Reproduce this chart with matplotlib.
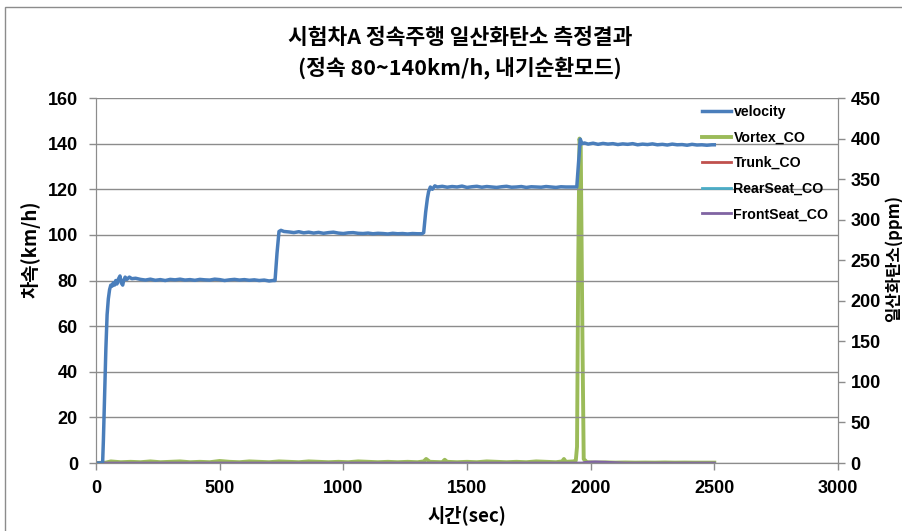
import matplotlib
matplotlib.use("Agg")
import matplotlib.pyplot as plt
from matplotlib.patches import Rectangle

plt.rcParams['font.family'] = ['Noto Sans CJK KR', 'DejaVu Sans']

# ---- data: vehicle speed (km/h), one block per speed stage ------------
t_start = [0, 10, 20, 27, 30, 35, 40, 45, 50, 55, 60, 65, 70, 75, 80, 85, 90]
v_start = [0, 0, 0, 0.5, 10, 30, 50, 65, 72, 76, 78, 77.5, 79, 78, 80, 78.5, 80.5]

t_settle = [97, 102, 108, 112, 118, 125, 135, 145, 160]
v_settle = [82, 79, 78, 80, 81.5, 80.5, 81.5, 80.8, 81]

t_80 = [180, 200, 220, 240, 260, 280, 300, 320, 340, 360, 380, 400, 420, 440,
        460, 480, 500, 520, 540, 560, 580, 600, 620, 640, 660, 680, 700, 715, 724]
v_80 = [80.5, 80.2, 80.6, 80.1, 80.4, 80.0, 80.5, 80.3, 80.6, 80.2, 80.4, 80.1,
        80.5, 80.3, 80.2, 80.6, 80.4, 80.0, 80.3, 80.5, 80.2, 80.4, 80.1, 80.3,
        80.0, 80.2, 79.8, 80.0, 80.0]

t_100 = [732, 740, 748, 760, 780, 800, 820, 840, 860, 880, 900, 920, 940, 960,
         980, 1000, 1020, 1040, 1060, 1080, 1100, 1120, 1140, 1160, 1180, 1200,
         1220, 1240, 1260, 1280, 1300, 1318]
v_100 = [92, 101.5, 102, 101.5, 101.3, 101.0, 101.4, 100.9, 101.2, 100.8, 101.1,
         100.7, 101.0, 101.2, 100.8, 100.6, 100.9, 101.0, 100.7, 100.6, 100.8,
         100.5, 100.7, 100.6, 100.4, 100.7, 100.5, 100.6, 100.4, 100.6, 100.5, 100.5]

t_120 = [1325, 1333, 1340, 1345, 1352, 1360, 1370, 1380, 1400, 1420, 1440, 1460,
         1480, 1500, 1520, 1540, 1560, 1580, 1600, 1620, 1640, 1660, 1680, 1700,
         1720, 1740, 1760, 1780, 1800, 1820, 1840, 1860, 1880, 1900, 1920, 1935, 1944]
v_120 = [101, 110, 116, 119, 121, 120, 121.5, 121.0, 121.3, 120.9, 121.2, 121.0,
         121.4, 120.8, 121.1, 121.3, 120.9, 121.2, 121.0, 120.8, 121.1, 121.3,
         120.9, 121.0, 121.2, 120.8, 121.1, 121.0, 120.9, 121.2, 121.0, 120.8,
         121.1, 121.0, 121.0, 121.0, 121.0]

t_140 = [1950, 1955, 1958, 1965, 1975, 1990, 2010, 2030, 2050, 2070, 2090, 2110,
         2130, 2150, 2170, 2190, 2210, 2230, 2250, 2270, 2290, 2310, 2330, 2350,
         2370, 2390, 2410, 2430, 2450, 2470, 2490, 2500]
v_140 = [130, 138, 142, 140, 140.3, 139.8, 140.2, 139.7, 140.1, 139.8, 140.0,
         139.6, 139.9, 139.7, 140.0, 139.5, 139.8, 139.6, 139.9, 139.5, 139.7,
         139.4, 139.8, 139.5, 139.6, 139.3, 139.7, 139.4, 139.5, 139.3, 139.5, 139.5]

# ---- data: carbon monoxide (ppm) ---------------------------------------
co_t_a = [0, 40, 60, 100, 140, 180, 220, 260, 300, 340, 380, 420, 460, 500,
          540, 580, 620, 660, 700, 740]
vortex_a = [0, 0.5, 2, 1, 1.5, 1, 2, 1, 1.5, 2, 1, 1.5, 1, 2.5, 1.5, 1, 2, 1.5, 1, 2]

co_t_b = [780, 820, 860, 900, 940, 980, 1020, 1060, 1100, 1140, 1180, 1220,
          1260, 1300, 1325, 1335, 1350, 1400, 1410, 1420]
vortex_b = [1.5, 1, 2, 1.5, 1, 1.5, 1, 2, 1.5, 1, 1.5, 1, 1.5, 1, 2, 5, 1.5, 1, 4, 1.5]

co_t_c = [1460, 1500, 1540, 1580, 1620, 1660, 1700, 1740, 1780, 1820, 1860,
          1885, 1892, 1900, 1930]
vortex_c = [1, 1.5, 1, 2, 1.5, 1, 1.5, 1, 2, 1.5, 1, 2, 5, 1.5, 2]

co_t_d = [1940, 1945, 1950, 1955, 1960, 1967, 1972, 1985]
vortex_d = [3, 20, 250, 400, 390, 150, 5, 1]

co_t_e = [2020, 2060, 2100, 2140, 2180, 2220, 2260, 2300, 2340, 2380, 2420, 2460, 2500]
vortex_e = [0.5, 0.8, 0.5, 0.7, 0.5, 0.6, 0.5, 0.7, 0.5, 0.6, 0.5, 0.5, 0.5]

front_d = [0, 0, 0, 0, 0, 0, 0.5, 1]
front_e = [1.5, 1, 0.5, 0, 0, 0, 0, 0, 0, 0, 0, 0, 0]

x_ticks = [0, 500, 1000, 1500, 2000, 2500, 3000]
y_left_ticks = [0, 20, 40, 60, 80, 100, 120, 140, 160]
y_right_ticks = [0, 50, 100, 150, 200, 250, 300, 350, 400, 450]

vel_time = t_start + t_settle + t_80 + t_100 + t_120 + t_140
velocity = v_start + v_settle + v_80 + v_100 + v_120 + v_140
co_time = co_t_a + co_t_b + co_t_c + co_t_d + co_t_e
vortex_co = vortex_a + vortex_b + vortex_c + vortex_d + vortex_e
trunk_co = [0] * len(co_time)
rearseat_co = [0] * len(co_time)
frontseat_co = [0] * (len(co_t_a) + len(co_t_b) + len(co_t_c)) + front_d + front_e

# ---- figure -----------------------------------------------------------
fig = plt.figure(figsize=(9.02, 5.31), dpi=100)
fig.patches.append(Rectangle((0.005, -0.01), 1.2, 0.997, transform=fig.transFigure,
                             fill=False, edgecolor='#8c8c8c', linewidth=1.0))

ax = fig.add_axes([0.1064, 0.128, 0.8226, 0.6874])
ax2 = ax.twinx()

num_font = ['Liberation Sans', 'DejaVu Sans']
grid_c = '#8c8c8c'

ax.set_xlim(0, 3000)
ax.set_ylim(0, 160)
ax2.set_ylim(0, 450)
ax.set_xticks(x_ticks)
ax.set_yticks(y_left_ticks)
ax2.set_yticks(y_right_ticks)
ax.yaxis.grid(True, color=grid_c, linewidth=1.0)
ax.set_axisbelow(True)

for a in (ax, ax2):
    a.spines['top'].set_visible(False)
    for side in ('left', 'bottom', 'right'):
        a.spines[side].set_color(grid_c)
    a.tick_params(colors=grid_c, length=5, width=1, labelcolor='black')
ax.tick_params(axis='y', pad=8)
ax.tick_params(axis='x', pad=7)
ax2.tick_params(axis='y', pad=4)

for lbl in ax.get_xticklabels() + ax.get_yticklabels() + ax2.get_yticklabels():
    lbl.set_family(num_font)
    lbl.set_fontweight('bold')
    lbl.set_fontsize(13)

# CO series on the right axis
l_vortex, = ax2.plot(co_time, vortex_co, color='#9BBB59', linewidth=2.8, label='Vortex_CO')
l_trunk, = ax2.plot(co_time, trunk_co, color='#C0504D', linewidth=2.0, label='Trunk_CO')
l_rear, = ax2.plot(co_time, rearseat_co, color='#4BACC6', linewidth=2.0, label='RearSeat_CO')
l_front, = ax2.plot(co_time, frontseat_co, color='#8064A2', linewidth=2.0, label='FrontSeat_CO')

# velocity on the left axis, drawn on top
ax.set_zorder(ax2.get_zorder() + 1)
ax.patch.set_visible(False)
l_vel, = ax.plot(vel_time, velocity, color='#4A7EBB', linewidth=2.5, label='velocity')

leg = ax.legend(handles=[l_vel, l_vortex, l_trunk, l_rear, l_front],
                loc='upper left', bbox_to_anchor=(0.8, 1.016), frameon=False,
                handlelength=2.0, handletextpad=0.2, labelspacing=0.82,
                prop={'family': num_font, 'size': 10.2})
for t in leg.get_texts():
    t.set_fontweight('bold')

ax.set_xlabel('시간(sec)', fontsize=13.5, fontweight='bold')
ax.xaxis.set_label_coords(0.5, -0.115)
ax.set_ylabel('차속(km/h)', fontsize=13.5, fontweight='bold')
ax.yaxis.set_label_coords(-0.075, 0.585)
ax2.set_ylabel('일산화탄소(ppm)', fontsize=12, fontweight='bold')
ax2.yaxis.set_label_coords(1.063, 0.56)

fig.text(0.51, 0.93, '시험차A 정속주행 일산화탄소 측정결과', ha='center', va='center',
         fontsize=15.5, fontweight='bold')
fig.text(0.51, 0.873, '(정속 80~140km/h, 내기순환모드)', ha='center', va='center',
         fontsize=15.5, fontweight='bold')

fig.savefig('out.png', dpi=100)
